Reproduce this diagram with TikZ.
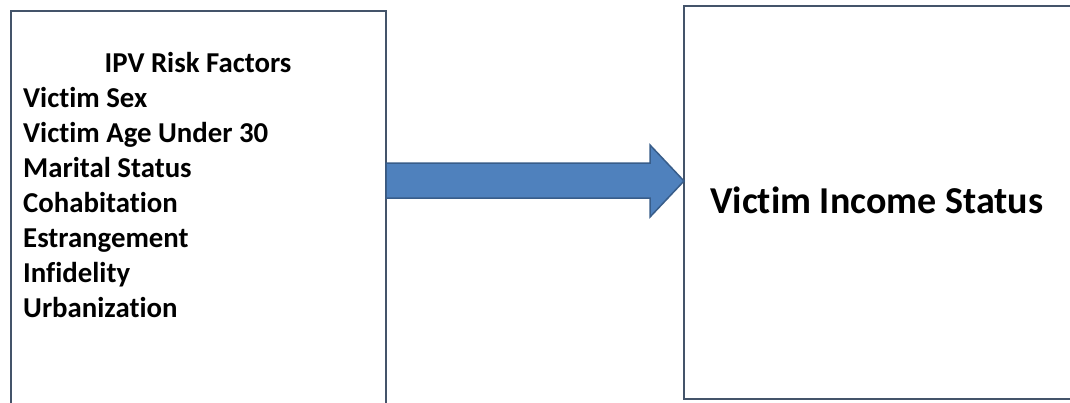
\documentclass[tikz,border=0pt]{standalone}
\usepackage{fontspec}
\setmainfont[Ligatures=NoCommon]{Carlito}
\definecolor{boxline}{HTML}{44546A}
\definecolor{arrfill}{HTML}{4F81BD}
\definecolor{arrline}{HTML}{385D8A}
\begin{document}
\begin{tikzpicture}[x=1pt,y=-1pt,
  panel/.style={draw=boxline,line width=2.2pt,fill=white},
  itemtext/.style={anchor=base west,inner sep=0pt,font=\bfseries\fontsize{28.8}{34}\selectfont},
  bigarrow/.style={fill=arrfill,draw=arrline,line width=1.5pt,line join=miter}]
\useasboundingbox (0,0) rectangle (1070,402);
\clip (0,0) rectangle (1070,402);
\fill[white] (0,0) rectangle (1070,402);
\draw[panel] (11,11) rectangle (386,408);
\draw[panel] (684,6) rectangle (1075,399);
\coordinate (a0) at (386,163);
\coordinate (a1) at (650,163);
\coordinate (a2) at (650,145);
\coordinate (tip) at (684,181);
\coordinate (a3) at (650,217);
\coordinate (a4) at (650,198);
\coordinate (a5) at (386,198);
\draw[bigarrow] (a0) -- (a1) -- (a2) -- (tip) -- (a3) -- (a4) -- (a5) -- cycle;
\node[anchor=base,inner sep=0pt,font=\bfseries\fontsize{28.8}{34}\selectfont] (title) at (198,72) {IPV Risk Factors};
\node[itemtext] (f1) at (23,107) {Victim Sex};
\node[itemtext] (f2) at (23,142) {Victim Age Under 30};
\node[itemtext] (f3) at (23,177) {Marital Status};
\node[itemtext] (f4) at (23,212) {Cohabitation};
\node[itemtext] (f5) at (23,247) {Estrangement};
\node[itemtext] (f6) at (23,282) {Infidelity};
\node[itemtext] (f7) at (23,317) {Urbanization};
\node[anchor=base west,inner sep=0pt,font=\bfseries\fontsize{38}{44}\selectfont] (out) at (710,213) {Victim Income Status};
\end{tikzpicture}
\end{document}
